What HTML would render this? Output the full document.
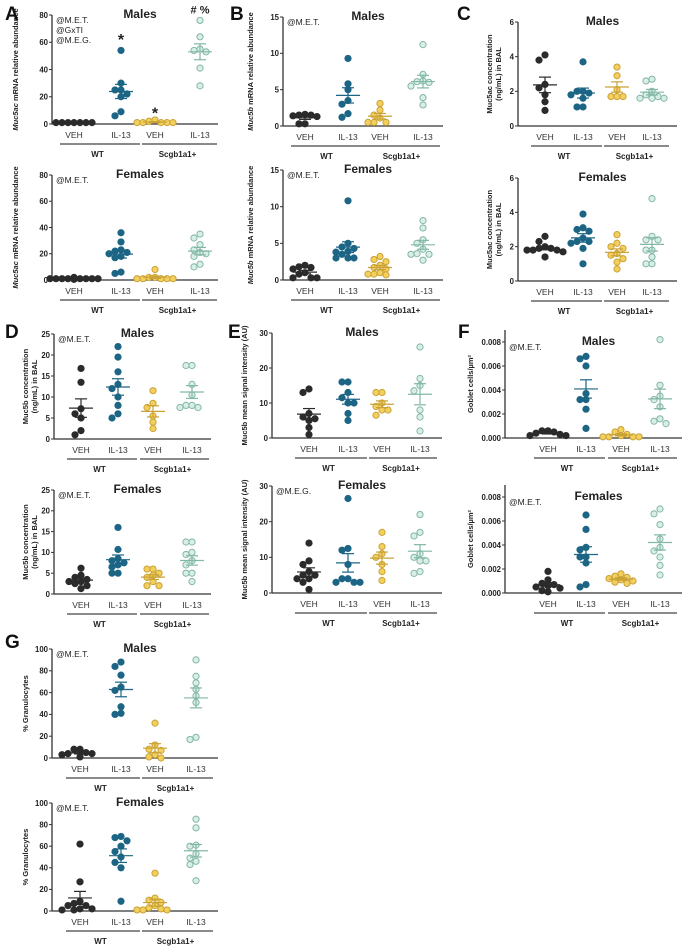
<!DOCTYPE html>
<html><head><meta charset="utf-8"><style>
body{margin:0;background:#fff;}
svg{display:block;font-family:"Liberation Sans",Arial,sans-serif;}
</style></head><body>
<svg id="fig" width="683" height="948" viewBox="0 0 683 948" xmlns="http://www.w3.org/2000/svg"></svg>
<script>
const groups = ["VEH","IL-13","VEH","IL-13"];
const genotypes = ["WT","Scgb1a1+"];
// Panel A
const aMale = [[1,1,1,1,1,1,1],[54,30,25,25,22,20,9,6],[3,2,1,1,1,1,1],[76,64,55,54,53,41,28]];
const aFemale = [[2,1,1,1,1,1,1,1,1,0.5],[36,29,23,22,21,20,18,17,6,5],[8,2,2,1,1,1,1,1],[35,32,27,23,21,20,18,12,10]];
const aTicks = [0,20,40,60,80];
// Panel B
const bMale = [[1.6,1.5,1.5,1.4,1.3,0.3,0.3],[9.3,5.8,5.0,3.5,3.0,1.7,1.2],[3.1,2.2,1.5,1.1,0.5,0.5,0.5],[11.2,7.1,6.2,6.1,6.0,5.5,3.9,2.9]];
const bFemale = [[2.0,1.8,1.7,1.5,1.0,0.8,0.3,0.3,0.3],[10.8,5.0,4.5,4.3,3.9,3.8,3.5,3.0,3.0,3.0],[3.2,2.8,2.5,2.0,1.7,1.5,1.0,0.8,0.8,0.7],[8.1,7.1,5.5,5.0,4.2,3.6,3.5,3.5,2.7]];
const bTicks = [0,5,10,15];
// Panel C
const cMale = [[4.1,3.8,2.4,2.2,1.8,1.4,0.9],[3.7,2.0,2.0,1.9,1.8,1.6,1.1,1.1],[3.4,2.9,2.1,1.7,1.7,1.7],[2.7,2.6,2.0,1.8,1.7,1.6,1.6,1.6]];
const cFemale = [[2.6,2.3,2.0,1.9,1.9,1.8,1.8,1.8,1.7,1.4],[3.9,3.1,3.0,2.9,2.5,2.3,2.3,2.2,1.9,1.0],[2.7,2.2,2.0,1.9,1.6,1.5,1.3,1.1,0.7],[4.8,2.6,2.4,2.4,1.8,1.8,1.4,1.0,1.0]];
const cTicks = [0,2,4,6];
// Panel D
const dMale = [[16.8,13.5,7.2,6.0,5.0,2.0,1.0],[22,19.5,16,13,12,10,8,6,5],[11.5,8.5,7.5,5.5,4.0,2.5],[17.5,17.5,13,10.5,8,8,7.5,7.5]];
const dFemale = [[6.2,4.5,4,3.5,3,3,2.5,2,1.3],[16,10.7,8.5,8,7.5,7,6.5,5,5],[6,6,5,4.5,4,3,2,2],[12.5,12.5,10,9.5,8,7,5,5,3]];
const dTicks = [0,5,10,15,20,25];
// Panel E
const eMale = [[14,13,7,6,5.5,5,3,1],[16,16,13,11.5,10,10,7,5],[13,13,10,9,8,8,6.5],[26,17,15,13.5,8,6,2]];
const eFemale = [[14,9,8,6,5,5,4,4,3,1],[26.5,12.5,12,8,4,4,3,3,3],[17,13,11,10,8,6,3.5],[22,17,16,11,10,9,6,5.5,9]];
const eTicks = [0,10,20,30];
// Panel F
const fMale = [[0.0006,0.0006,0.0005,0.0004,0.0003,0.0002,0.0002],[0.0068,0.0066,0.006,0.0037,0.0032,0.0032,0.0024,0.0008],[0.0007,0.0005,0.0003,0.0002,0.0001,0.0001,0.0001,0.0001],[0.0082,0.0044,0.0035,0.0032,0.0026,0.0016,0.0014,0.0012]];
const fFemale = [[0.0018,0.0011,0.0008,0.0007,0.0006,0.0005,0.0004,0.0002,0.0001],[0.0065,0.0053,0.0038,0.0036,0.003,0.003,0.0025,0.0007,0.0005],[0.0016,0.0014,0.0013,0.0012,0.0011,0.001,0.0009,0.0008],[0.007,0.0066,0.0057,0.0045,0.0038,0.0035,0.003,0.0023,0.0015]];
const fTicks = [0,0.002,0.004,0.006,0.008];
const fTickLabels = ["0.000","0.002","0.004","0.006","0.008"];
// Panel G
const gMale = [[8,8,5,4,4,3,1],[88,84,76,65,62,47,41,40],[32,12,8,7,3,1,0],[90,75,69,63,57,51,19,17]];
const gFemale = [[62,27,9,7,5,5,2,2,1,1],[69,68,65,60,55,50,45,40,9],[35,12,10,8,5,3,2,1,1,1],[85,77,61,60,53,49,46,43,28]];
const gTicks = [0,20,40,60,80,100];

const NS="http://www.w3.org/2000/svg";
const svg=document.getElementById('fig');
function mk(tag,attrs,parent,text){const e=document.createElementNS(NS,tag);for(const k in attrs)e.setAttribute(k,attrs[k]);if(text!==undefined)e.textContent=text;(parent||svg).appendChild(e);return e;}
const fills=["#2b2b2b","#1d6585","#f3cf5e","#d9eee7"];
const strokes=["#2b2b2b","#1d6585","#caa235","#82b7a6"];

function panel(o){
  const g=mk('g',{});
  
  
  const max=o.ticks[o.ticks.length-1];
  const top=o.axTop!==undefined?o.axTop:o.y1;
  const y=v=>o.y0-(v/max)*(o.y0-o.y1);
  const x=i=>o.cats[i];
  const ya=mk('line',{x1:o.x0,x2:o.x0,y1:top,y2:o.y0,stroke:'#333','stroke-width':1.3},g);
  
  const xa=mk('line',{x1:o.x0,x2:o.xEnd,y1:o.y0,y2:o.y0,stroke:'#333','stroke-width':1.3},g);
  
  o.ticks.forEach((t,i)=>{
    mk('line',{x1:o.x0-3,x2:o.x0,y1:y(t),y2:y(t),stroke:'#333','stroke-width':1},g);
    const tl=mk('text',{x:o.x0-4,y:y(t)+2.8,'font-size':7.8,'font-weight':'bold','text-anchor':'end',fill:'#222'},g,o.tickLabels?o.tickLabels[i]:String(t));
    
  });
  const yt=mk('text',{x:0,y:0,'font-size':7.5,'font-weight':'bold','text-anchor':'middle',fill:'#222',transform:`translate(${o.x0-o.tOff},${(top+o.y0)/2}) rotate(-90)`},g);
  
  if(o.titleLines.length===1){
    if(o.ital){mk('tspan',{'font-style':'italic'},yt,o.ital);}
    mk('tspan',{},yt,o.titleLines[0]);
  } else {
    o.titleLines.forEach((l,i)=>mk('tspan',{x:0,dy:i===0?-4:9},yt,l));
  }
  const tt=mk('text',{x:(o.x0+o.xEnd)/2+5,y:o.y1+3,'font-size':12,'font-weight':'bold','text-anchor':'middle',fill:'#222'},g,o.sex);
  
  (o.notes||[]).forEach((n,i)=>{const t=mk('text',{x:o.x0+4,y:o.y1+8+i*10,'font-size':8.5,fill:'#222'},g,n);});
  groups.forEach((c,i)=>{const t=mk('text',{x:x(i),y:o.y0+14,'font-size':8.5,'text-anchor':'middle',fill:'#333'},g,c);});
  [[0,1],[2,3]].forEach((p,k)=>{
    const l=mk('line',{x1:x(p[0])-(k?13:14),x2:x(p[1])+(k?17:19),y1:o.y0+20,y2:o.y0+20,stroke:'#444','stroke-width':1.3},g);
    
    const t=mk('text',{x:(x(p[0])+x(p[1]))/2,y:o.y0+33,'font-size':8,'font-weight':'bold','text-anchor':'middle',fill:'#222'},g,genotypes[k]);
    
  });
  o.data.forEach((vals,gi)=>{
    const n=vals.length,mean=vals.reduce((a,b)=>a+b,0)/n;
    const sd=Math.sqrt(vals.reduce((a,b)=>a+(b-mean)**2,0)/(n-1)),sem=sd/Math.sqrt(n);
    const placed=[];
    const sorted=vals.slice().sort((a,b)=>b-a);
    sorted.forEach(v=>{
      const py=y(v);let px=x(gi);
      const offs=[0,-6,6,-12,12,-18,18,-24,24];
      for(const d of offs){const cx=x(gi)+d;if(placed.every(p=>Math.hypot(p[0]-cx,p[1]-py)>=5.8)){px=cx;break;}}
      placed.push([px,py]);
      const c=mk('circle',{cx:px,cy:py,r:3.1,fill:fills[gi],stroke:strokes[gi],'stroke-width':1},g);
      
    });
    const col=strokes[gi];
    const ml=mk('line',{x1:x(gi)-12,x2:x(gi)+12,y1:y(mean),y2:y(mean),stroke:col,'stroke-width':1.2},g);
    
    mk('line',{x1:x(gi),x2:x(gi),y1:y(mean+sem),y2:y(Math.max(0,mean-sem)),stroke:col,'stroke-width':1.2},g);
    mk('line',{x1:x(gi)-6,x2:x(gi)+6,y1:y(mean+sem),y2:y(mean+sem),stroke:col,'stroke-width':1.2},g);
    mk('line',{x1:x(gi)-6,x2:x(gi)+6,y1:y(Math.max(0,mean-sem)),y2:y(Math.max(0,mean-sem)),stroke:col,'stroke-width':1.2},g);
  });
  (o.marks||[]).forEach(m=>{const t=mk('text',{x:x(m[0]),y:y(m[1]),'font-size':m[3]||16,'font-weight':'bold','text-anchor':'middle',fill:'#222'},g,m[2]);});
}
function letter(t,xx,yy){const e=mk('text',{x:xx,y:yy,'font-size':19,'font-weight':'bold',fill:'#111'},svg,t);}

const catsA=[74,121,155,200], catsB=[305,348,380,423], catsC=[545,583,617,652];
const catsD=[81,118,153,192], catsE=[309,348,382,420], catsF=[548,586,621,660];
const catsG=[80,121,155,196];
panel({name:'panel-a-males',sex:'Males',x0:52,xEnd:218,y0:124,y1:15,cats:catsA,ticks:aTicks,data:aMale,tOff:34,ital:'Muc5ac',titleLines:[' mRNA relative abundance'],notes:['@M.E.T.','@GxTI','@M.E.G.'],marks:[[1,58,'*'],[2,4,'*'],[3,81,'# %',11]]});
panel({name:'panel-a-females',sex:'Females',x0:52,xEnd:218,y0:280,y1:175,cats:catsA,ticks:aTicks,data:aFemale,tOff:34,ital:'Muc5ac',titleLines:[' mRNA relative abundance'],notes:['@M.E.T.']});
panel({name:'panel-b-males',sex:'Males',x0:283,xEnd:443,y0:126,y1:17,cats:catsB,ticks:bTicks,data:bMale,tOff:30,ital:'Muc5b',titleLines:[' mRNA relative abundance'],notes:['@M.E.T.']});
panel({name:'panel-b-females',sex:'Females',x0:283,xEnd:443,y0:280,y1:170,cats:catsB,ticks:bTicks,data:bFemale,tOff:30,ital:'Muc5b',titleLines:[' mRNA relative abundance'],notes:['@M.E.T.']});
panel({name:'panel-c-males',sex:'Males',x0:518,xEnd:677,y0:126,y1:22,cats:catsC,ticks:cTicks,data:cMale,tOff:22,titleLines:['Muc5ac concentration','(ng/mL) in BAL']});
panel({name:'panel-c-females',sex:'Females',x0:518,xEnd:677,y0:281,y1:178,cats:catsC,ticks:cTicks,data:cFemale,tOff:22,titleLines:['Muc5ac concentration','(ng/mL) in BAL']});
panel({name:'panel-d-males',sex:'Males',x0:54,xEnd:211,y0:439,y1:334,cats:catsD,ticks:dTicks,data:dMale,tOff:22,titleLines:['Muc5b concentration','(ng/mL) in BAL'],notes:['@M.E.T.']});
panel({name:'panel-d-females',sex:'Females',x0:54,xEnd:211,y0:594,y1:490,cats:catsD,ticks:dTicks,data:dFemale,tOff:22,titleLines:['Muc5b concentration','(ng/mL) in BAL'],notes:['@M.E.T.']});
panel({name:'panel-e-males',sex:'Males',x0:272,xEnd:442,y0:438,y1:333,cats:catsE,ticks:eTicks,data:eMale,tOff:25,titleLines:['Muc5b mean signal intensity (AU)']});
panel({name:'panel-e-females',sex:'Females',x0:272,xEnd:442,y0:593,y1:486,cats:catsE,ticks:eTicks,data:eFemale,tOff:25,titleLines:['Muc5b mean signal intensity (AU)'],notes:['@M.E.G.']});
panel({name:'panel-f-males',sex:'Males',x0:505,xEnd:682,y0:438,y1:342,axTop:330,cats:catsF,ticks:fTicks,tickLabels:fTickLabels,data:fMale,tOff:32,titleLines:['Goblet cells/µm²'],notes:['@M.E.T.']});
panel({name:'panel-f-females',sex:'Females',x0:505,xEnd:682,y0:593,y1:497,axTop:485,cats:catsF,ticks:fTicks,tickLabels:fTickLabels,data:fFemale,tOff:32,titleLines:['Goblet cells/µm²'],notes:['@M.E.T.']});
panel({name:'panel-g-males',sex:'Males',x0:52,xEnd:218,y0:758,y1:649,cats:catsG,ticks:gTicks,data:gMale,tOff:24,titleLines:['% Granulocytes'],notes:['@M.E.T.']});
panel({name:'panel-g-females',sex:'Females',x0:52,xEnd:218,y0:911,y1:803,cats:catsG,ticks:gTicks,data:gFemale,tOff:24,titleLines:['% Granulocytes'],notes:['@M.E.T.']});
letter('A',5,20);letter('B',230,20);letter('C',457,20);
letter('D',5,338);letter('E',228,338);letter('F',458,338);letter('G',5,648);
</script>
</body></html>
